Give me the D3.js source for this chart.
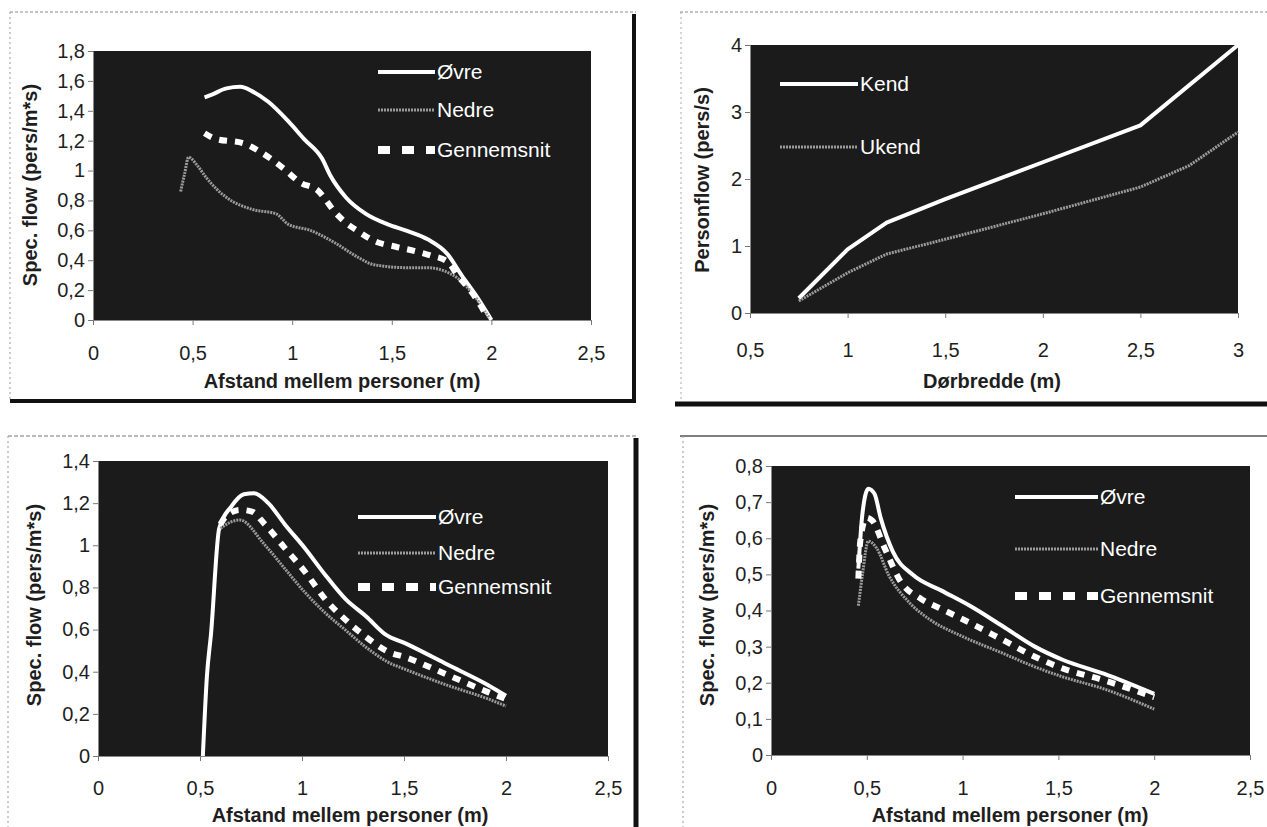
<!DOCTYPE html>
<html><head><meta charset="utf-8">
<script src="https://cdn.jsdelivr.net/npm/d3@7"></script>
<style>
body{margin:0;background:#fff;}
text{font-family:"Liberation Sans",Arial,sans-serif;fill:#1e1e1e;}
</style></head>
<body><svg id="c" width="1267" height="827"></svg>
<script>
// ---------- DATA ----------
// Panel 1 (top-left)
const p1Ovre = [[0.56,1.49],[0.6,1.51],[0.67,1.55],[0.74,1.56],[0.8,1.53],[0.88,1.46],[0.98,1.33],[1.06,1.21],[1.15,1.08],[1.19,0.97],[1.27,0.82],[1.37,0.71],[1.48,0.64],[1.58,0.595],[1.68,0.54],[1.78,0.44],[1.85,0.3],[1.93,0.15],[2.0,0.0]];
const p1Nedre = [[0.44,0.86],[0.46,0.98],[0.48,1.09],[0.52,1.04],[0.57,0.95],[0.67,0.82],[0.8,0.74],[0.92,0.71],[0.98,0.64],[1.09,0.6],[1.21,0.52],[1.33,0.42],[1.41,0.37],[1.58,0.35],[1.68,0.35],[1.76,0.33],[1.83,0.28],[1.91,0.17],[1.99,0.01]];
const p1Genn = [[0.56,1.25],[0.61,1.215],[0.76,1.18],[0.84,1.125],[0.96,1.01],[1.04,0.92],[1.13,0.865],[1.17,0.8],[1.21,0.73],[1.27,0.65],[1.33,0.595],[1.41,0.53],[1.52,0.49],[1.62,0.46],[1.7,0.43],[1.78,0.39],[1.83,0.3],[1.91,0.17],[1.98,0.02]];
const p1XTicks = [0,0.5,1,1.5,2,2.5];
const p1YTicks = [0,0.2,0.4,0.6,0.8,1,1.2,1.4,1.6,1.8];

// Panel 2 (top-right)
const p2Kend = [[0.75,0.22],[1.0,0.95],[1.2,1.35],[1.5,1.7],[2.0,2.25],[2.5,2.8],[3.0,4.0]];
const p2Ukend = [[0.75,0.18],[1.0,0.6],[1.2,0.88],[1.5,1.1],[2.0,1.48],[2.5,1.88],[2.75,2.2],[3.0,2.7]];
const p2XTicks = [0.5,1,1.5,2,2.5,3];
const p2YTicks = [0,1,2,3,4];

// Panel 3 (bottom-left)
const p3Ovre = [[0.514,0.0],[0.534,0.38],[0.554,0.58],[0.594,1.08],[0.654,1.185],[0.715,1.242],[0.765,1.247],[0.835,1.2],[0.915,1.1],[1.015,0.985],[1.115,0.858],[1.215,0.743],[1.315,0.662],[1.405,0.58],[1.515,0.531],[1.715,0.433],[1.915,0.335],[2.0,0.286]];
const p3Nedre = [[0.6,1.08],[0.65,1.11],[0.695,1.12],[0.815,1.005],[0.915,0.89],[1.015,0.776],[1.115,0.678],[1.215,0.596],[1.315,0.515],[1.415,0.449],[1.515,0.408],[1.715,0.335],[1.915,0.27],[2.0,0.237]];
const p3Genn = [[0.6,1.1],[0.625,1.135],[0.695,1.168],[0.755,1.16],[0.815,1.103],[0.915,0.988],[1.015,0.874],[1.115,0.743],[1.215,0.645],[1.315,0.564],[1.415,0.498],[1.515,0.466],[1.715,0.384],[1.915,0.302],[2.0,0.27]];
const p3XTicks = [0,0.5,1,1.5,2,2.5];
const p3YTicks = [0,0.2,0.4,0.6,0.8,1,1.2,1.4];

// Panel 4 (bottom-right)
const p4Ovre = [[0.456,0.516],[0.477,0.667],[0.508,0.737],[0.54,0.723],[0.572,0.657],[0.636,0.563],[0.742,0.498],[0.89,0.455],[1.038,0.413],[1.208,0.357],[1.377,0.3],[1.525,0.263],[1.737,0.225],[2.0,0.169]];
const p4Nedre = [[0.456,0.413],[0.477,0.498],[0.508,0.592],[0.551,0.573],[0.614,0.498],[0.72,0.423],[0.826,0.376],[0.996,0.329],[1.208,0.282],[1.377,0.244],[1.525,0.216],[1.737,0.183],[2.0,0.127]];
const p4Genn = [[0.456,0.488],[0.466,0.592],[0.498,0.657],[0.53,0.648],[0.593,0.573],[0.678,0.479],[0.784,0.432],[0.89,0.404],[1.038,0.366],[1.208,0.319],[1.377,0.272],[1.525,0.239],[1.737,0.207],[2.0,0.16]];
const p4XTicks = [0,0.5,1,1.5,2,2.5];
const p4YTicks = [0,0.1,0.2,0.3,0.4,0.5,0.6,0.7,0.8];

const seriesNames3 = ["Øvre","Nedre","Gennemsnit"];
const seriesNames2 = ["Kend","Ukend"];
const xTitleDist = "Afstand mellem personer (m)";
const xTitleDoor = "Dørbredde (m)";
const yTitleSpec = "Spec. flow (pers/m*s)";
const yTitlePers = "Personflow (pers/s)";

// ---------- RENDER ----------
const svg = d3.select("#c");
const loc = d3.formatLocale({decimal:",",thousands:".",grouping:[3],currency:["","kr"]});
const fmt = loc.format("~g");

const styles = {
  solid:{stroke:"#ffffff",width:4,dash:null},
  gray:{stroke:"#9b9b9b",width:3,dash:"2,1"},
  dashed:{stroke:"#ffffff",width:6,dash:"8,8"}
};

function hline(x1,x2,y,w,c,dash){svg.append("line").attr("x1",x1).attr("x2",x2).attr("y1",y).attr("y2",y).attr("stroke",c).attr("stroke-width",w).attr("stroke-dasharray",dash||null);}
function vline(x,y1,y2,w,c,dash){svg.append("line").attr("x1",x).attr("x2",x).attr("y1",y1).attr("y2",y2).attr("stroke",c).attr("stroke-width",w).attr("stroke-dasharray",dash||null);}
hline(10,636,12,1,"#888","3,2"); vline(10,12,400,1,"#999","2,3");
vline(634,14,403,4,"#111"); hline(10,636,401,4,"#111");
hline(680,1267,12,1,"#888","3,2"); vline(681,12,400,1,"#aaa","2,3");
hline(675,1267,404,5,"#111");
hline(8,636,436,1,"#777","4,2"); vline(8,436,827,1,"#999","2,3");
vline(636,438,827,5,"#111");
hline(680,1267,436,1.5,"#555"); vline(683,436,827,1,"#999","2,3");

function panel(cfg){
  const x = d3.scaleLinear().domain(cfg.xDom).range([cfg.x0,cfg.x1]);
  const y = d3.scaleLinear().domain(cfg.yDom).range([cfg.y1,cfg.y0]);
  const g = svg.append("g");
  g.append("rect").attr("x",cfg.x0).attr("y",cfg.y0).attr("width",cfg.x1-cfg.x0).attr("height",cfg.y1-cfg.y0).attr("fill","#1b1b1b");
  const ya = g.append("g").attr("transform",`translate(${cfg.x0},0)`)
    .call(d3.axisLeft(y).tickValues(cfg.yTicks).tickFormat(fmt).tickSize(5).tickPadding(3));
  const xa = g.append("g").attr("transform",`translate(0,${cfg.y1})`)
    .call(d3.axisBottom(x).tickValues(cfg.xTicks).tickFormat(fmt).tickSize(5).tickPadding(cfg.xPad));
  [ya,xa].forEach(a=>{
    a.attr("font-size",20).attr("font-family","Liberation Sans, Arial, sans-serif");
    a.selectAll("text").attr("fill","#1e1e1e");
    a.selectAll("line").attr("stroke","#777");
    a.select(".domain").attr("stroke","#888").attr("stroke-width",1);
  });
  g.append("text").attr("x",cfg.xtX).attr("y",cfg.xtY).attr("text-anchor","middle").attr("font-weight","bold").attr("font-size",20).text(cfg.xTitle);
  g.append("text").attr("transform",`translate(${cfg.ytX},${cfg.ytY}) rotate(-90)`).attr("text-anchor","middle").attr("font-weight","bold").attr("font-size",20).text(cfg.yTitle);

  const line = d3.line().x(d=>x(d[0])).y(d=>y(d[1])).curve(cfg.curve);
  cfg.series.forEach(s=>{
    const st = styles[s.style];
    g.append("path").datum(s.data).attr("d",line).attr("fill","none")
      .attr("stroke",st.stroke).attr("stroke-width",st.width).attr("stroke-dasharray",st.dash)
      .attr("stroke-linejoin","round");
  });
  cfg.series.forEach((s,i)=>{
    const st = styles[s.style];
    const ly = cfg.legY[i];
    g.append("line").attr("x1",cfg.legX0).attr("x2",cfg.legX1).attr("y1",ly).attr("y2",ly)
      .attr("stroke",st.stroke).attr("stroke-width",s.style==="dashed"?8:st.width)
      .attr("stroke-dasharray",s.style==="dashed"?"12,12":st.dash);
    g.append("text").attr("x",cfg.legX1+2).attr("y",ly).attr("dy","0.35em")
      .attr("font-size",21).style("fill","#ffffff").text(s.name);
  });
}

panel({x0:93,x1:591,y0:51,y1:320,xDom:[0,2.5],yDom:[0,1.8],xTicks:p1XTicks,yTicks:p1YTicks,xPad:21,
  xTitle:xTitleDist,xtX:342,xtY:388,yTitle:yTitleSpec,ytX:37,ytY:185,curve:d3.curveMonotoneX,
  series:[{name:seriesNames3[0],data:p1Ovre,style:"solid"},{name:seriesNames3[1],data:p1Nedre,style:"gray"},{name:seriesNames3[2],data:p1Genn,style:"dashed"}],
  legX0:378,legX1:435,legY:[72,110,150]});

panel({x0:750,x1:1238,y0:45,y1:313,xDom:[0.5,3],yDom:[0,4],xTicks:p2XTicks,yTicks:p2YTicks,xPad:25,
  xTitle:xTitleDoor,xtX:992,xtY:388,yTitle:yTitlePers,ytX:709,ytY:180,curve:d3.curveLinear,
  series:[{name:seriesNames2[0],data:p2Kend,style:"solid"},{name:seriesNames2[1],data:p2Ukend,style:"gray"}],
  legX0:780,legX1:858,legY:[84,147]});

panel({x0:98,x1:608,y0:461,y1:756,xDom:[0,2.5],yDom:[0,1.4],xTicks:p3XTicks,yTicks:p3YTicks,xPad:20,
  xTitle:xTitleDist,xtX:350,xtY:822,yTitle:yTitleSpec,ytX:41,ytY:605,curve:d3.curveMonotoneX,
  series:[{name:seriesNames3[0],data:p3Ovre,style:"solid"},{name:seriesNames3[1],data:p3Nedre,style:"gray"},{name:seriesNames3[2],data:p3Genn,style:"dashed"}],
  legX0:358,legX1:436,legY:[517,553,587]});

panel({x0:771,x1:1250,y0:466,y1:755,xDom:[0,2.5],yDom:[0,0.8],xTicks:p4XTicks,yTicks:p4YTicks,xPad:21,
  xTitle:xTitleDist,xtX:1010,xtY:822,yTitle:yTitleSpec,ytX:714,ytY:605,curve:d3.curveMonotoneX,
  series:[{name:seriesNames3[0],data:p4Ovre,style:"solid"},{name:seriesNames3[1],data:p4Nedre,style:"gray"},{name:seriesNames3[2],data:p4Genn,style:"dashed"}],
  legX0:1015,legX1:1098,legY:[497,549,596]});
</script></body></html>
